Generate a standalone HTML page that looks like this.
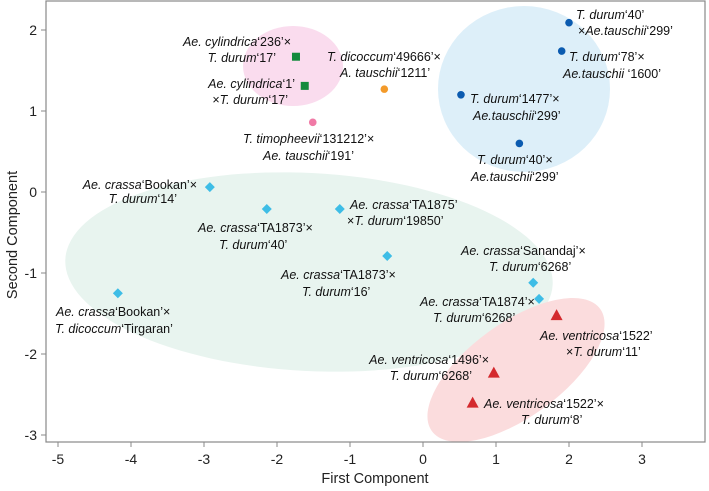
<!DOCTYPE html>
<html><head><meta charset="utf-8"><style>
body{margin:0;background:#fff}
svg{display:block;font-family:"Liberation Sans",Arial,sans-serif}
.lb{font-size:12.5px;fill:#111}
.tk{font-size:14px;fill:#222}
</style></head><body>
<svg id="chart" width="709" height="491" viewBox="0 0 709 491">
<g id="ellipses">
<ellipse cx="293" cy="66" rx="50" ry="40" fill="#fadcee"/>
<ellipse cx="524" cy="89" rx="86" ry="83" fill="#ddeff9"/>
<ellipse cx="309" cy="272" rx="244" ry="99" fill="#e8f4ef" transform="rotate(3 309 272)"/>
<ellipse cx="516" cy="370" rx="104" ry="47" fill="#fbdcdd" transform="rotate(-36 516 370)"/>
</g>
<rect x="46" y="1" width="659" height="441" fill="none" stroke="#888" stroke-width="1.2"/>
<g id="axes"></g>
<g id="marks"></g>
<g id="labels">
<text class="lb" text-anchor="end" x="291" y="46"><tspan font-style="italic">Ae. cylindrica</tspan>‘236’×</text>
<text class="lb" text-anchor="end" x="276" y="62"><tspan font-style="italic">T. durum</tspan>‘17’</text>
<text class="lb" text-anchor="end" x="295" y="88"><tspan font-style="italic">Ae. cylindrica</tspan>‘1’</text>
<text class="lb" text-anchor="end" x="288" y="104">×<tspan font-style="italic">T. durum</tspan>‘17’</text>
<text class="lb" x="327" y="61"><tspan font-style="italic">T. dicoccum</tspan>‘49666’×</text>
<text class="lb" x="340" y="77"><tspan font-style="italic">A. tauschii</tspan>‘1211’</text>
<text class="lb" x="243" y="143"><tspan font-style="italic">T. timopheevii</tspan>‘131212’×</text>
<text class="lb" x="263" y="160"><tspan font-style="italic">Ae. tauschii</tspan>‘191’</text>
<text class="lb" x="576" y="19"><tspan font-style="italic">T. durum</tspan>‘40’</text>
<text class="lb" x="578" y="35">×<tspan font-style="italic">Ae.tauschii</tspan>‘299’</text>
<text class="lb" x="569" y="61"><tspan font-style="italic">T. durum</tspan>‘78’×</text>
<text class="lb" x="563" y="78"><tspan font-style="italic">Ae.tauschii</tspan>   ‘1600’</text>
<text class="lb" x="470" y="103"><tspan font-style="italic">T. durum</tspan>‘1477’×</text>
<text class="lb" x="473" y="120"><tspan font-style="italic">Ae.tauschii</tspan>‘299’</text>
<text class="lb" x="477" y="164"><tspan font-style="italic">T. durum</tspan>‘40’×</text>
<text class="lb" x="471" y="181"><tspan font-style="italic">Ae.tauschii</tspan>‘299’</text>
<text class="lb" text-anchor="end" x="197" y="189"><tspan font-style="italic">Ae. crassa</tspan>‘Bookan’×</text>
<text class="lb" text-anchor="end" x="177" y="203"><tspan font-style="italic">T. durum</tspan>‘14’</text>
<text class="lb" x="198" y="232"><tspan font-style="italic">Ae. crassa</tspan>‘TA1873’×</text>
<text class="lb" x="219" y="249"><tspan font-style="italic">T. durum</tspan>‘40’</text>
<text class="lb" x="350" y="209"><tspan font-style="italic">Ae. crassa</tspan>‘TA1875’</text>
<text class="lb" x="347" y="225">×<tspan font-style="italic">T. durum</tspan>‘19850’</text>
<text class="lb" x="281" y="279"><tspan font-style="italic">Ae. crassa</tspan>‘TA1873’×</text>
<text class="lb" x="302" y="296"><tspan font-style="italic">T. durum</tspan>‘16’</text>
<text class="lb" x="56" y="316"><tspan font-style="italic">Ae. crassa</tspan>‘Bookan’×</text>
<text class="lb" x="55" y="333"><tspan font-style="italic">T. dicoccum</tspan>‘Tirgaran’</text>
<text class="lb" x="461" y="255"><tspan font-style="italic">Ae. crassa</tspan>‘Sanandaj’×</text>
<text class="lb" x="489" y="271"><tspan font-style="italic">T. durum</tspan>‘6268’</text>
<text class="lb" x="420" y="306"><tspan font-style="italic">Ae. crassa</tspan>‘TA1874’×</text>
<text class="lb" x="433" y="322"><tspan font-style="italic">T. durum</tspan>‘6268’</text>
<text class="lb" x="540" y="340"><tspan font-style="italic">Ae. ventricosa</tspan>‘1522’</text>
<text class="lb" x="566" y="356">×<tspan font-style="italic">T. durum</tspan>‘11’</text>
<text class="lb" text-anchor="end" x="489" y="364"><tspan font-style="italic">Ae. ventricosa</tspan>‘1496’×</text>
<text class="lb" text-anchor="end" x="472" y="380"><tspan font-style="italic">T. durum</tspan>‘6268’</text>
<text class="lb" x="484" y="408"><tspan font-style="italic">Ae. ventricosa</tspan>‘1522’×</text>
<text class="lb" x="521" y="424"><tspan font-style="italic">T. durum</tspan>‘8’</text>
</g>
<text x="375" y="483" text-anchor="middle" font-size="14.5" fill="#222">First Component</text>
<text x="0" y="0" transform="translate(17 235) rotate(-90)" text-anchor="middle" font-size="14.5" fill="#222">Second Component</text>
</svg>
<script>
const xTicks=[-5,-4,-3,-2,-1,0,1,2,3];
const yTicks=[-3,-2,-1,0,1,2];
const cylX=[-1.74,-1.62], cylY=[1.67,1.31];
const timX=[-1.51], timY=[0.86];
const dicX=[-0.53], dicY=[1.27];
const tauX=[2.0,1.9,0.52,1.32], tauY=[2.09,1.74,1.2,0.6];
const craX=[-2.92,-2.14,-1.14,-0.49,-4.18,1.51,1.59], craY=[0.06,-0.21,-0.21,-0.79,-1.25,-1.12,-1.32];
const venX=[1.83,0.97,0.68], venY=[-1.52,-2.23,-2.6];
const sx=v=>423+v*73, sy=v=>192-v*81;
const NS='http://www.w3.org/2000/svg';
const ax=document.getElementById('axes'), mk=document.getElementById('marks');
function mkEl(t,a,p){const e=document.createElementNS(NS,t);for(const k in a)e.setAttribute(k,a[k]);p.appendChild(e);return e;}
xTicks.forEach(v=>{
 const l=mkEl('line',{x1:sx(v),x2:sx(v),y1:442,y2:447,stroke:'#888'},ax);
 
 
 const t=mkEl('text',{x:sx(v),y:464,'text-anchor':'middle',class:'tk'},ax);t.textContent=v;
 
 
});
yTicks.forEach(v=>{
 const l=mkEl('line',{x1:41,x2:46,y1:sy(v),y2:sy(v),stroke:'#888'},ax);
 
 
 const t=mkEl('text',{x:37,y:sy(v)+5,'text-anchor':'end',class:'tk'},ax);t.textContent=v;
 
 
});
cylX.forEach((v,i)=>{const e=mkEl('rect',{x:sx(v)-4,y:sy(cylY[i])-4,width:8,height:8,fill:'#138a3c'},mk);
 
 });
timX.forEach((v,i)=>{const e=mkEl('circle',{cx:sx(v),cy:sy(timY[i]),r:3.8,fill:'#f07aa6'},mk);
 
 });
dicX.forEach((v,i)=>{const e=mkEl('circle',{cx:sx(v),cy:sy(dicY[i]),r:3.8,fill:'#f39a2a'},mk);
 
 });
tauX.forEach((v,i)=>{const e=mkEl('circle',{cx:sx(v),cy:sy(tauY[i]),r:3.8,fill:'#0b5bb0'},mk);
 
 });
craX.forEach((v,i)=>{const x=sx(v),y=sy(craY[i]);const e=mkEl('polygon',{points:`${x},${y-5} ${x+5},${y} ${x},${y+5} ${x-5},${y}`,fill:'#3ebde6'},mk);
 
 });
venX.forEach((v,i)=>{const x=sx(v),y=sy(venY[i]);const e=mkEl('polygon',{points:`${x},${y-6} ${x+6},${y+5} ${x-6},${y+5}`,fill:'#d42a2e'},mk);
 
 });
</script>
</body></html>
